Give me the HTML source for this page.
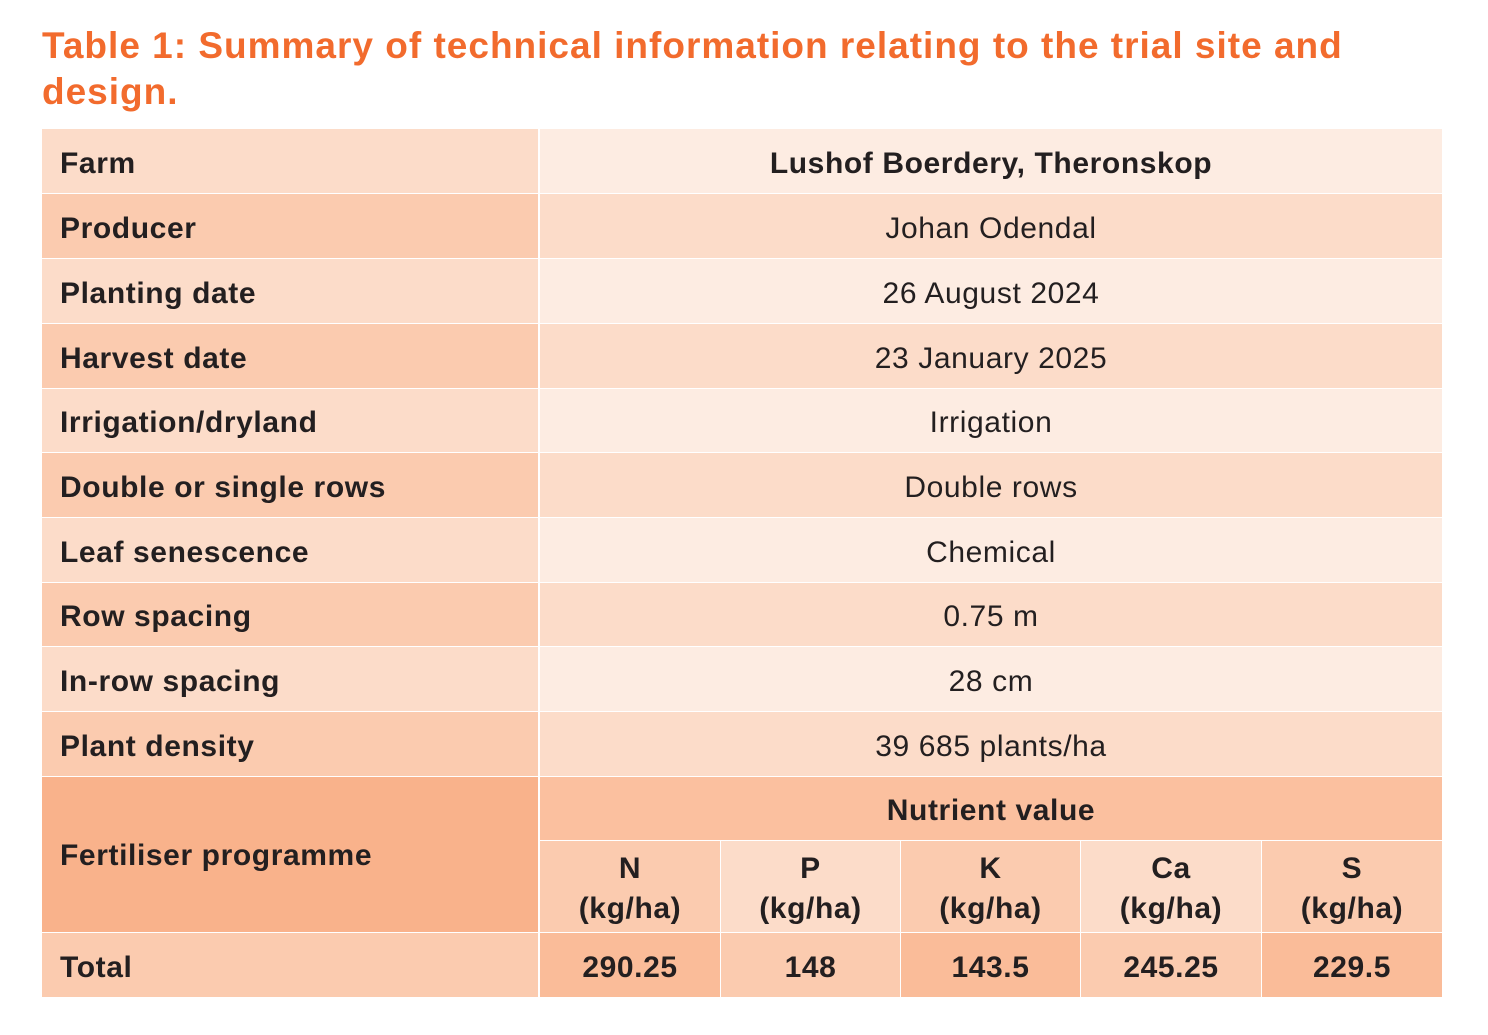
<!DOCTYPE html><html><head><style>
body{margin:0;width:1488px;height:1035px;background:#fff;font-family:"Liberation Sans",sans-serif;color:#231f20;position:relative;overflow:hidden}
.t{position:absolute;left:42px;color:#f26b2d;font-weight:bold;font-size:37px;letter-spacing:1px}
.c{position:absolute;box-sizing:border-box;display:flex;align-items:center;font-size:30px;letter-spacing:0.6px;white-space:nowrap;padding-top:5px}
.l{padding-left:18px;font-weight:bold}
.r{justify-content:center;text-align:center}
.b{font-weight:bold}
</style></head><body>
<div class="t" style="top:25px">Table 1: Summary of technical information relating to the trial site and</div>
<div class="t" style="top:71px">design.</div>
<div class="c l" style="left:42px;top:129px;width:496px;height:64px;background:#fcdcc9">Farm</div>
<div class="c r b" style="left:540px;top:129px;width:902px;height:64px;background:#fdece2">Lushof Boerdery, Theronskop</div>
<div class="c l" style="left:42px;top:194px;width:496px;height:64px;background:#fbcbaf">Producer</div>
<div class="c r" style="left:540px;top:194px;width:902px;height:64px;background:#fcdcc9">Johan Odendal</div>
<div class="c l" style="left:42px;top:259px;width:496px;height:64px;background:#fcdcc9">Planting date</div>
<div class="c r" style="left:540px;top:259px;width:902px;height:64px;background:#fdece2">26 August 2024</div>
<div class="c l" style="left:42px;top:324px;width:496px;height:64px;background:#fbcbaf">Harvest date</div>
<div class="c r" style="left:540px;top:324px;width:902px;height:64px;background:#fcdcc9">23 January 2025</div>
<div class="c l" style="left:42px;top:389px;width:496px;height:63px;background:#fcdcc9">Irrigation/dryland</div>
<div class="c r" style="left:540px;top:389px;width:902px;height:63px;background:#fdece2">Irrigation</div>
<div class="c l" style="left:42px;top:453px;width:496px;height:64px;background:#fbcbaf">Double or single rows</div>
<div class="c r" style="left:540px;top:453px;width:902px;height:64px;background:#fcdcc9">Double rows</div>
<div class="c l" style="left:42px;top:518px;width:496px;height:64px;background:#fcdcc9">Leaf senescence</div>
<div class="c r" style="left:540px;top:518px;width:902px;height:64px;background:#fdece2">Chemical</div>
<div class="c l" style="left:42px;top:583px;width:496px;height:63px;background:#fbcbaf">Row spacing</div>
<div class="c r" style="left:540px;top:583px;width:902px;height:63px;background:#fcdcc9">0.75 m</div>
<div class="c l" style="left:42px;top:647px;width:496px;height:64px;background:#fcdcc9">In-row spacing</div>
<div class="c r" style="left:540px;top:647px;width:902px;height:64px;background:#fdece2">28 cm</div>
<div class="c l" style="left:42px;top:712px;width:496px;height:64px;background:#fbcbaf">Plant density</div>
<div class="c r" style="left:540px;top:712px;width:902px;height:64px;background:#fcdcc9">39 685 plants/ha</div>
<div class="c l" style="left:42px;top:777px;width:496px;height:155px;background:#f9b28b;padding-top:3px">Fertiliser programme</div>
<div class="c r b" style="left:540px;top:777px;width:902px;height:63px;background:#fbc09f">Nutrient value</div>
<div class="c r b" style="left:540px;top:841px;width:180px;height:91px;background:#fbcbaf;line-height:40px">N<br>(kg/ha)</div>
<div class="c r b" style="left:721px;top:841px;width:179px;height:91px;background:#fcdcc9;line-height:40px">P<br>(kg/ha)</div>
<div class="c r b" style="left:901px;top:841px;width:179px;height:91px;background:#fbcbaf;line-height:40px">K<br>(kg/ha)</div>
<div class="c r b" style="left:1081px;top:841px;width:180px;height:91px;background:#fcdcc9;line-height:40px">Ca<br>(kg/ha)</div>
<div class="c r b" style="left:1262px;top:841px;width:180px;height:91px;background:#fbcbaf;line-height:40px">S<br>(kg/ha)</div>
<div class="c l" style="left:42px;top:933px;width:496px;height:64px;background:#fbcbaf">Total</div>
<div class="c r b" style="left:540px;top:933px;width:180px;height:64px;background:#fabc99">290.25</div>
<div class="c r b" style="left:721px;top:933px;width:179px;height:64px;background:#fbcbaf">148</div>
<div class="c r b" style="left:901px;top:933px;width:179px;height:64px;background:#fabc99">143.5</div>
<div class="c r b" style="left:1081px;top:933px;width:180px;height:64px;background:#fbcbaf">245.25</div>
<div class="c r b" style="left:1262px;top:933px;width:180px;height:64px;background:#fabc99">229.5</div>
</body></html>
